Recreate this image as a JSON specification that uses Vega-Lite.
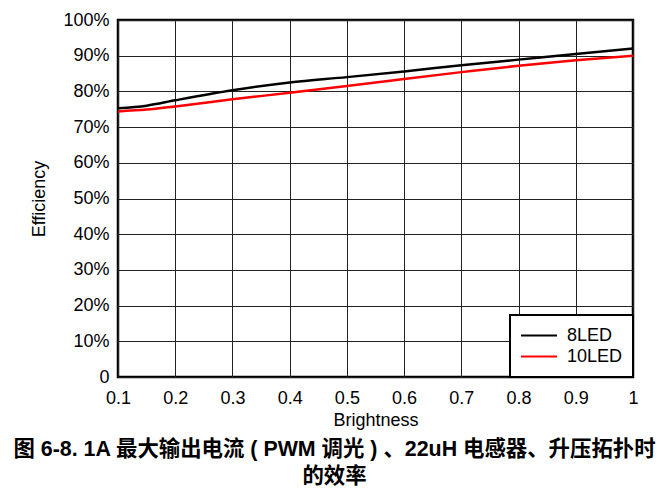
{
  "$schema": "https://vega.github.io/schema/vega-lite/v6.json",
  "width": 515,
  "height": 357,
  "autosize": "none",
  "padding": {"left": 118, "top": 20, "right": 28, "bottom": 120},
  "background": "white",
  "config": {
    "font": "Liberation Sans",
    "view": {"stroke": "black", "strokeWidth": 2.5},
    "axis": {
      "labelFont": "Liberation Sans",
      "titleFont": "Liberation Sans",
      "labelFontSize": 18,
      "titleFontSize": 18,
      "titleFontWeight": "normal",
      "labelColor": "black",
      "titleColor": "black",
      "gridColor": "#222",
      "gridOpacity": 1,
      "gridWidth": 1,
      "tickSize": 0,
      "domain": false
    }
  },
  "title": {
    "text": ["图 6-8. 1A 最大输出电流 ( PWM 调光 ) 、22uH 电感器、升压拓扑时", "的效率"],
    "orient": "bottom",
    "anchor": "middle",
    "frame": "bounds",
    "font": "Liberation Sans, Noto Sans CJK SC",
    "fontSize": 21.4,
    "fontWeight": "bold",
    "color": "black",
    "lineHeight": 27,
    "offset": 10
  },
  "data": {
    "values": [
      {"brightness": 0.1, "efficiency": 0.753, "series": "8LED"},
      {"brightness": 0.15, "efficiency": 0.760, "series": "8LED"},
      {"brightness": 0.2, "efficiency": 0.775, "series": "8LED"},
      {"brightness": 0.3, "efficiency": 0.803, "series": "8LED"},
      {"brightness": 0.4, "efficiency": 0.825, "series": "8LED"},
      {"brightness": 0.5, "efficiency": 0.840, "series": "8LED"},
      {"brightness": 0.6, "efficiency": 0.856, "series": "8LED"},
      {"brightness": 0.7, "efficiency": 0.873, "series": "8LED"},
      {"brightness": 0.8, "efficiency": 0.889, "series": "8LED"},
      {"brightness": 0.9, "efficiency": 0.905, "series": "8LED"},
      {"brightness": 1.0, "efficiency": 0.920, "series": "8LED"},
      {"brightness": 0.1, "efficiency": 0.744, "series": "10LED"},
      {"brightness": 0.15, "efficiency": 0.749, "series": "10LED"},
      {"brightness": 0.2, "efficiency": 0.758, "series": "10LED"},
      {"brightness": 0.3, "efficiency": 0.778, "series": "10LED"},
      {"brightness": 0.4, "efficiency": 0.796, "series": "10LED"},
      {"brightness": 0.5, "efficiency": 0.815, "series": "10LED"},
      {"brightness": 0.6, "efficiency": 0.835, "series": "10LED"},
      {"brightness": 0.7, "efficiency": 0.854, "series": "10LED"},
      {"brightness": 0.8, "efficiency": 0.872, "series": "10LED"},
      {"brightness": 0.9, "efficiency": 0.887, "series": "10LED"},
      {"brightness": 1.0, "efficiency": 0.900, "series": "10LED"}
    ]
  },
  "mark": {"type": "line", "strokeWidth": 2.5, "interpolate": "monotone"},
  "encoding": {
    "x": {
      "field": "brightness",
      "type": "quantitative",
      "title": "Brightness",
      "scale": {"domain": [0.1, 1], "nice": false, "zero": false},
      "axis": {
        "values": [0.1, 0.2, 0.3, 0.4, 0.5, 0.6, 0.7, 0.8, 0.9, 1.0],
        "format": ".1~f",
        "labelPadding": 12,
        "titlePadding": 4,
        "labelFlush": false
      }
    },
    "y": {
      "field": "efficiency",
      "type": "quantitative",
      "title": "Efficiency",
      "scale": {"domain": [0, 1], "nice": false},
      "axis": {
        "values": [0, 0.1, 0.2, 0.3, 0.4, 0.5, 0.6, 0.7, 0.8, 0.9, 1.0],
        "labelExpr": "datum.value == 0 ? '0' : format(datum.value, '.0%')",
        "labelPadding": 9,
        "titlePadding": 14
      }
    },
    "color": {
      "field": "series",
      "type": "nominal",
      "sort": ["8LED", "10LED"],
      "scale": {"domain": ["8LED", "10LED"], "range": ["black", "#ff0000"]},
      "legend": {
        "title": null,
        "orient": "bottom-right",
        "offset": 0,
        "fillColor": "white",
        "strokeColor": "black",
        "padding": 10,
        "symbolType": "M-1,0H1",
        "symbolSize": 1296,
        "symbolStrokeWidth": 2,
        "clipHeight": 21,
        "labelFont": "Liberation Sans",
        "labelFontSize": 18,
        "labelColor": "black",
        "labelOffset": 9,
        "rowPadding": 0,
        "encode": {"legend": {"update": {"strokeWidth": {"value": 2}}}}
      }
    }
  }
}
